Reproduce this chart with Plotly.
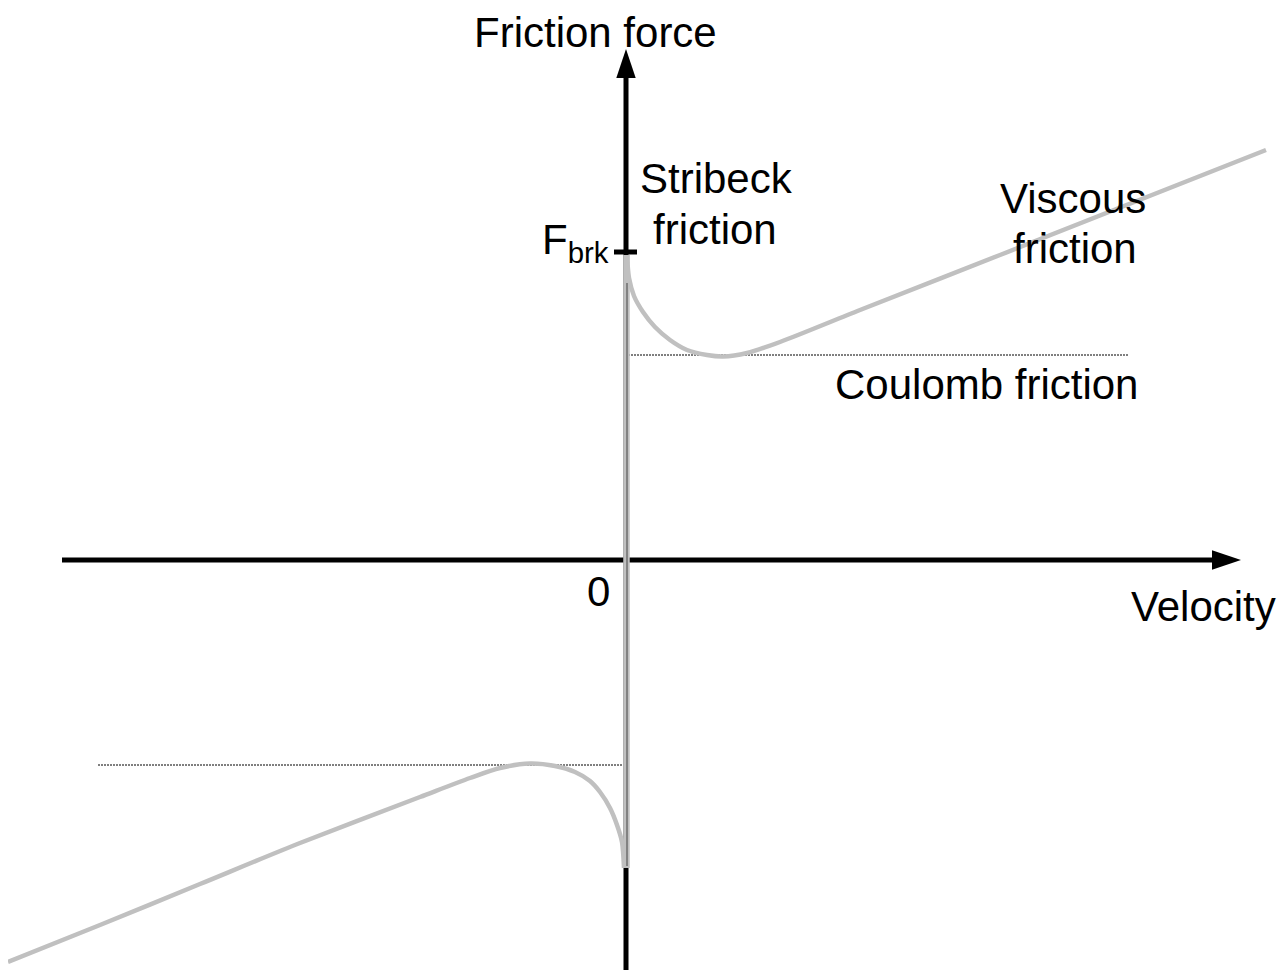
import plotly.graph_objects as go

# friction curve (velocity, force in arbitrary units)
v_neg = [-6.17, -5.25, -4.25, -3.25, -2.05, -1.55, -1.25, -0.95, -0.70, -0.50,
         -0.35, -0.25, -0.15, -0.08, -0.03, -0.01]
f_neg = [-4.02, -3.65, -3.24, -2.83, -2.37, -2.18, -2.08, -2.035, -2.06, -2.12,
         -2.21, -2.32, -2.48, -2.65, -2.82, -3.08]

v_pos = [0.02, 0.04, 0.09, 0.18, 0.30, 0.45, 0.62, 0.82, 0.98, 1.22, 1.55, 2.35, 3.75, 6.41]
f_pos = [3.05, 2.82, 2.64, 2.48, 2.33, 2.20, 2.10, 2.05, 2.035, 2.07, 2.18, 2.50, 3.05, 4.10]

# coulomb levels
coulomb_v_pos = [0.03, 5.03]
coulomb_f_pos = [2.05, 2.05]
coulomb_v_neg = [-5.27, -0.03]
coulomb_f_neg = [-2.05, -2.05]

f_brk = 3.08

FONT = "Liberation Sans, Arial, sans-serif"
FS = 42
GREY = "#c0c0c0"

fig = go.Figure()

# coulomb dotted lines
for vx, fy in [(coulomb_v_pos, coulomb_f_pos), (coulomb_v_neg, coulomb_f_neg)]:
    fig.add_trace(go.Scatter(x=vx, y=fy, mode="lines",
                             line=dict(color="#000000", width=1, dash="2px,1px"),
                             showlegend=False, hoverinfo="skip"))

# main curve: negative branch, vertical jump at zero, positive branch
fig.add_trace(go.Scatter(x=v_neg, y=f_neg, mode="lines",
                         line=dict(color=GREY, width=4.5, shape="spline", smoothing=0.8),
                         showlegend=False, hoverinfo="skip"))
fig.add_trace(go.Scatter(x=[0.015, 0.015], y=[f_neg[-1], f_pos[0]], mode="lines",
                         line=dict(color=GREY, width=6.5),
                         showlegend=False, hoverinfo="skip"))
fig.add_trace(go.Scatter(x=v_pos, y=f_pos, mode="lines",
                         line=dict(color=GREY, width=4.5, shape="spline", smoothing=0.8),
                         showlegend=False, hoverinfo="skip"))

# axes with arrow heads
ax_black = dict(color="black", width=5)
fig.add_shape(type="line", x0=-5.63, y0=0, x1=5.9, y1=0, line=ax_black, layer="below")
fig.add_shape(type="line", x0=0.01, y0=-4.10, x1=0.01, y1=4.85, line=ax_black, layer="below")
fig.add_shape(type="path", path="M 5.87 0.097 L 6.16 0 L 5.87 -0.097 Z",
              fillcolor="black", line=dict(width=0))
fig.add_shape(type="path", path="M -0.087 4.82 L 0.01 5.11 L 0.107 4.82 Z",
              fillcolor="black", line=dict(width=0))
# thin axis line showing through the grey jump
fig.add_shape(type="line", x0=0.02, y0=2.77, x1=0.02, y1=-3.06,
              line=dict(color="#444444", width=1))
# F_brk tick
fig.add_shape(type="line", x0=-0.11, y0=f_brk, x1=0.12, y1=f_brk, line=ax_black)

def label(txt, x, y, xanchor="center"):
    fig.add_annotation(x=x, y=y, text=txt, showarrow=False, xanchor=xanchor,
                       yanchor="middle", font=dict(family=FONT, size=FS, color="black"))

label("Friction force", -0.30, 5.28)
label("Stribeck", 0.91, 3.82)
label("friction", 0.90, 3.31)
label("Viscous", 4.48, 3.62)
label("friction", 4.50, 3.12)
label("Coulomb friction", 3.61, 1.76)
label("0", -0.27, -0.31)
label("Velocity", 5.78, -0.46)
label("F<sub>brk</sub>", -0.14, 3.18, xanchor="right")

# page body adds an 8px offset, so the plot is 1280x962 and ranges are shifted to match
fig.update_layout(
    width=1280, height=962,
    margin=dict(l=0, r=0, t=0, b=0),
    plot_bgcolor="white", paper_bgcolor="white",
    xaxis=dict(range=[-6.17, 6.63], visible=False, fixedrange=True),
    yaxis=dict(range=[-4.10, 5.52], visible=False, fixedrange=True),
)

fig.write_html("out.html")
